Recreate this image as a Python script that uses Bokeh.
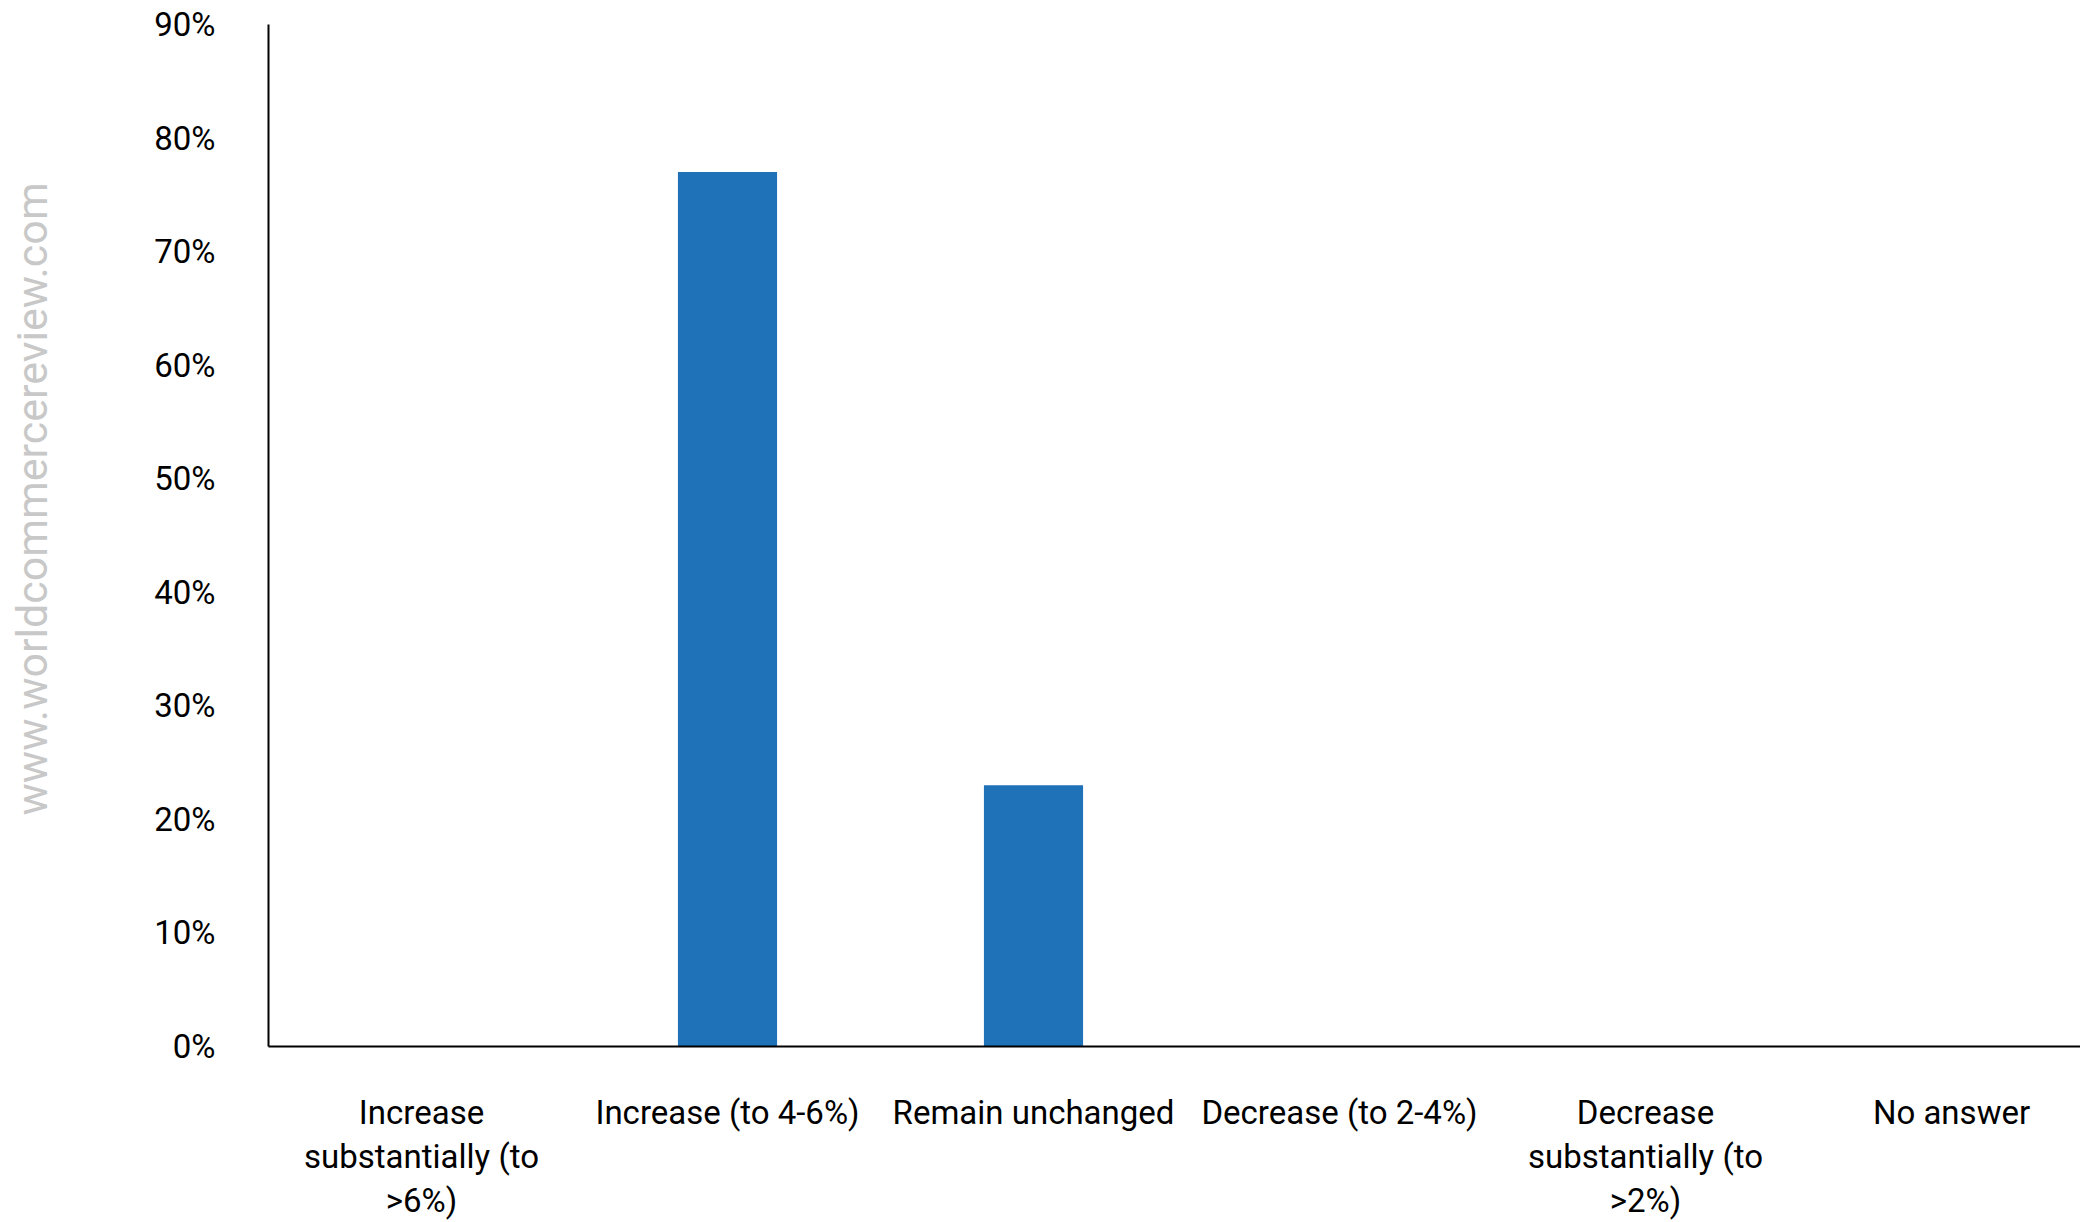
from bokeh.embed import file_html
from bokeh.models import FixedTicker, NumeralTickFormatter, Range1d, Title
from bokeh.plotting import figure
from bokeh.resources import INLINE

# Expected change in the indicator, share of respondents
categories = [
    "Increase\nsubstantially (to\n>6%)",
    "Increase (to 4-6%)",
    "Remain unchanged",
    "Decrease (to 2-4%)",
    "Decrease\nsubstantially (to\n>2%)",
    "No answer",
]
shares = [0.0, 0.77, 0.23, 0.0, 0.0, 0.0]
y_ticks = [0.0, 0.1, 0.2, 0.3, 0.4, 0.5, 0.6, 0.7, 0.8, 0.9]

FONT = "Roboto"
BAR_COLOR = "#1f71b8"

W, H = 2080, 1222
LEFT, TOP, BOTTOM = 268, 24, 175
slot_px = 306
frame_w = W - LEFT
x_pos = [i + 0.5 for i in range(len(categories))]

p = figure(
    width=W, height=H,
    x_range=Range1d(0, frame_w / slot_px),
    y_range=Range1d(0, 0.9),
    output_backend="svg", toolbar_location=None,
    min_border_left=LEFT, min_border_right=0,
    min_border_top=TOP, min_border_bottom=BOTTOM,
)
p.outline_line_color = None
p.xgrid.visible = False
p.ygrid.visible = False
p.background_fill_color = "white"
p.border_fill_color = "white"

p.vbar(x=x_pos, top=shares, width=0.324, bottom=0,
       fill_color=BAR_COLOR, line_color=None)

# y axis: percentages, no tick marks
ya = p.yaxis[0]
ya.ticker = FixedTicker(ticks=y_ticks)
ya.formatter = NumeralTickFormatter(format="0%")
ya.major_tick_line_color = None
ya.minor_tick_line_color = None
ya.axis_line_color = "black"
ya.axis_line_width = 2
ya.major_label_standoff = 47
ya.major_label_text_font = FONT
ya.major_label_text_font_size = "33px"
ya.major_label_text_color = "black"
# blank axis label keeps a gutter between the ticks and the margin text
ya.axis_label = " "
ya.axis_label_text_font_size = "10px"
ya.axis_label_standoff = 78

# x axis: category labels under each slot
xa = p.xaxis[0]
xa.ticker = FixedTicker(ticks=x_pos)
xa.major_label_overrides = {x: c for x, c in zip(x_pos, categories)}
xa.major_tick_line_color = None
xa.minor_tick_line_color = None
xa.axis_line_color = "black"
xa.axis_line_width = 2
xa.major_label_standoff = 40
xa.major_label_text_font = FONT
xa.major_label_text_font_size = "33px"
xa.major_label_text_line_height = 1.13
xa.major_label_text_color = "black"
xa.major_label_text_align = "center"

# site watermark running up the left margin
watermark = Title(
    text="www.worldcommercereview.com", align="left", offset=231,
    standoff=6, text_font=FONT, text_font_size="43px",
    text_font_style="normal", text_color="#c8c8c8",
)
p.add_layout(watermark, "left")

open("out.html", "w").write(file_html(p, INLINE))
